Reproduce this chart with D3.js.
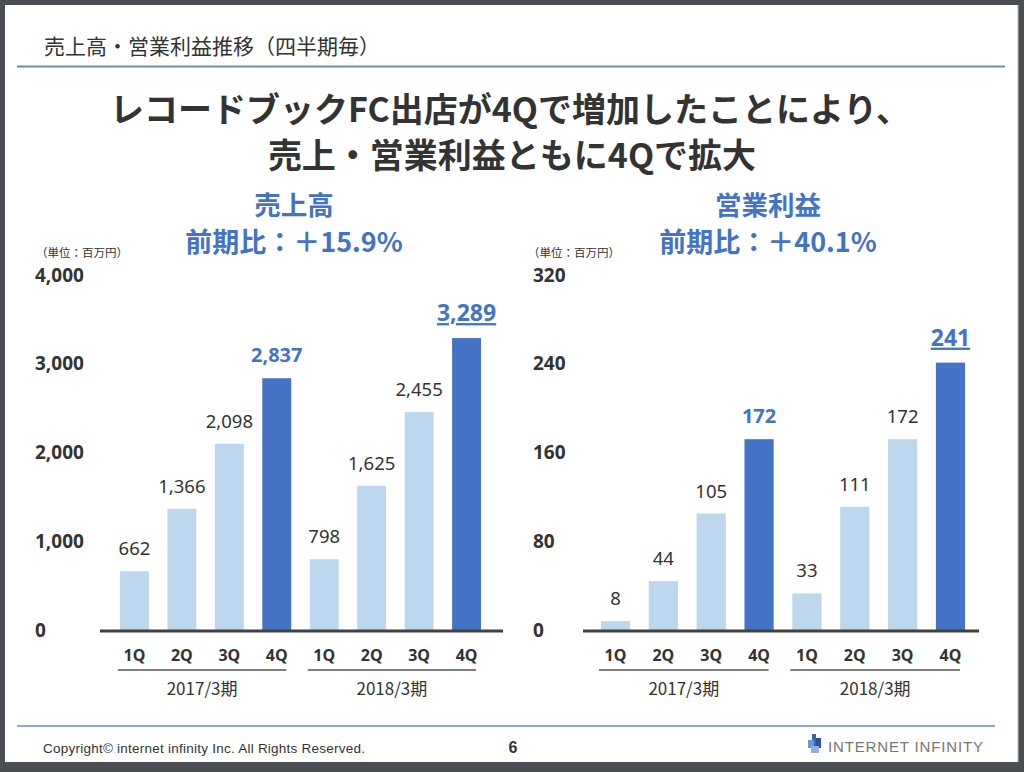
<!DOCTYPE html>
<html><head><meta charset="utf-8">
<script src="https://cdn.jsdelivr.net/npm/d3@7"></script>
<style>
html,body{margin:0;padding:0;background:#4a4d51;}
svg{display:block;font-family:"Noto Sans CJK JP","Noto Sans",sans-serif;}
</style></head>
<body>
<svg id="c" width="1024" height="772"></svg>
<script>
const quarters = ["1Q","2Q","3Q","4Q","1Q","2Q","3Q","4Q"];
const periods = ["2017/3期","2018/3期"];
const salesValues = [662,1366,2098,2837,798,1625,2455,3289];
const profitValues = [8,44,105,172,33,111,172,241];
const salesTicks = [0,1000,2000,3000,4000];
const profitTicks = [0,80,160,240,320];

const svg = d3.select("#c");
const light = "#bdd7ee", dark = "#4472c4", txt = "#333333";
const latin = "'Noto Sans','DejaVu Sans',sans-serif";

svg.append("rect").attr("x",5).attr("y",5).attr("width",1013).attr("height",757).attr("fill","#fff");
svg.append("line").attr("x1",1018).attr("x2",1018).attr("y1",5).attr("y2",762).attr("stroke","#bbb").attr("stroke-width",1);

svg.append("text").attr("x",44).attr("y",54).attr("font-size",21).attr("fill",txt)
  .text("売上高・営業利益推移（四半期毎）");
svg.append("line").attr("x1",17).attr("x2",1005).attr("y1",66.5).attr("y2",66.5).attr("stroke","#6f8ab8").attr("stroke-width",2);

svg.append("text").attr("x",510).attr("y",122).attr("text-anchor","middle").attr("font-size",34).attr("font-weight","bold").attr("fill",txt)
  .text("レコードブックFC出店が4Qで増加したことにより、");
svg.append("text").attr("x",512).attr("y",168).attr("text-anchor","middle").attr("font-size",34).attr("font-weight","bold").attr("fill",txt)
  .text("売上・営業利益ともに4Qで拡大");

function chart(opt){
  const g = svg.append("g");
  const y = d3.scaleLinear().domain([0,opt.max]).range([opt.base,275]);
  const x = d3.scaleBand().domain(d3.range(8)).range([opt.x0,opt.x1]).paddingInner(0.39).paddingOuter(0.195);
  g.append("text").attr("x",opt.cx).attr("y",215).attr("text-anchor","middle").attr("font-size",26.5).attr("font-weight","bold").attr("fill",dark).text(opt.title);
  g.append("text").attr("x",opt.cx).attr("y",252).attr("text-anchor","middle").attr("font-size",27).attr("font-weight","bold").attr("fill",dark).text(opt.ratio);
  g.append("text").attr("x",opt.unitX).attr("y",257).attr("font-size",11.5).attr("fill",txt).text("（単位：百万円）");
  const ax = g.append("g").attr("transform",`translate(${opt.tickX},0)`)
    .call(d3.axisLeft(y).tickValues(opt.ticks).tickFormat(d3.format(",")).tickSize(0).tickPadding(0));
  ax.select(".domain").remove();
  ax.selectAll("text").attr("font-size",19).attr("font-weight","bold").attr("fill",txt).attr("text-anchor","start").attr("dx",0)
    .style("font-family",latin);
  g.selectAll("rect.bar").data(opt.values).join("rect")
    .attr("x",(d,i)=>x(i)).attr("width",x.bandwidth())
    .attr("y",d=>y(d)).attr("height",d=>opt.base-y(d))
    .attr("fill",(d,i)=>i%4===3?dark:light);
  g.selectAll("text.val").data(opt.values).join("text")
    .attr("x",(d,i)=>x(i)+x.bandwidth()/2).attr("y",(d,i)=>y(d)-(i===7?17:16))
    .attr("text-anchor","middle")
    .attr("font-size",(d,i)=>i===7?23:(i===3?20:18.5))
    .attr("font-weight",(d,i)=>i%4===3?"bold":"normal")
    .attr("fill",(d,i)=>i%4===3?dark:txt)
    .attr("text-decoration",(d,i)=>i===7?"underline":null)
    .style("font-family",latin)
    .text(d=>d3.format(",")(d));
  g.append("line").attr("x1",opt.ax0).attr("x2",opt.ax1).attr("y1",opt.base+1).attr("y2",opt.base+1).attr("stroke","#404040").attr("stroke-width",3);
  g.selectAll("text.q").data(quarters).join("text")
    .attr("x",(d,i)=>x(i)+x.bandwidth()/2).attr("y",opt.base+31).attr("text-anchor","middle")
    .attr("font-size",16).attr("font-weight","bold").attr("fill",txt)
    .style("font-family",latin).text(d=>d);
  periods.forEach((p,k)=>{
    const a = x(k*4)-2, b = x(k*4+3)+x.bandwidth()-5;
    g.append("line").attr("x1",a).attr("x2",b).attr("y1",opt.base+40).attr("y2",opt.base+40).attr("stroke","#555").attr("stroke-width",1.5);
    g.append("text").attr("x",(a+b)/2).attr("y",opt.base+65).attr("text-anchor","middle").attr("font-size",17).attr("fill",txt).text(p);
  });
}

chart({values:salesValues,ticks:salesTicks,max:4000,base:630,x0:110.7,x1:490.3,ax0:100,ax1:503,tickX:35,unitX:36,cx:294,
  title:"売上高",ratio:"前期比：＋15.9%"});
chart({values:profitValues,ticks:profitTicks,max:320,base:630,x0:591.6,x1:974.4,ax0:583,ax1:979,tickX:533,unitX:528,cx:768,
  title:"営業利益",ratio:"前期比：＋40.1%"});

svg.append("line").attr("x1",17).attr("x2",995).attr("y1",726).attr("y2",726).attr("stroke","#6f8ab8").attr("stroke-width",1.5);
svg.append("text").attr("x",43).attr("y",753).attr("font-size",13.5).attr("fill",txt).style("font-family","'Liberation Sans',Arial,sans-serif")
  .attr("textLength",322).text("Copyright© internet infinity Inc. All Rights Reserved.");
svg.append("text").attr("x",513).attr("y",753).attr("text-anchor","middle").attr("font-size",16).attr("font-weight","bold").attr("fill",txt)
  .style("font-family","'Liberation Sans',Arial,sans-serif").text("6");
const logo = svg.append("g").attr("transform","translate(808,734)");
logo.append("rect").attr("x",4).attr("y",0).attr("width",4).attr("height",18).attr("fill","#3d64b0");
logo.append("rect").attr("x",0).attr("y",6).attr("width",6).attr("height",8).attr("fill","#6f95d4");
logo.append("rect").attr("x",8).attr("y",4).attr("width",5).attr("height",10).attr("fill","#2e4f9a");
logo.append("rect").attr("x",3).attr("y",12).attr("width",8).attr("height",7).attr("fill","#8fb0e0");
svg.append("text").attr("x",828).attr("y",752).attr("font-size",15).attr("fill","#777")
  .style("font-family","'Liberation Sans',Arial,sans-serif").attr("textLength",155).text("INTERNET INFINITY");
</script>
</body></html>
